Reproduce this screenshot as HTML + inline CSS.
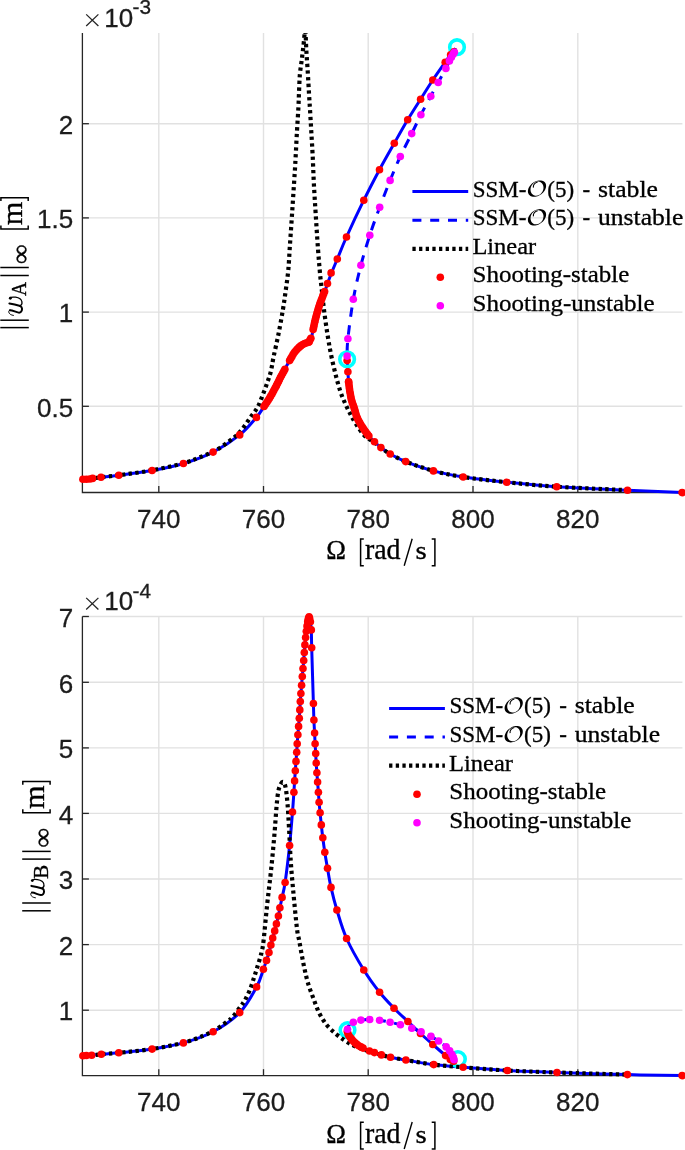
<!DOCTYPE html>
<html><head><meta charset="utf-8"><title>chart</title>
<style>
html,body{margin:0;padding:0;background:#fff;}
svg{display:block;}
.tk{font-family:"Liberation Sans",sans-serif;font-size:26px;fill:#1c1c1c;stroke:#1c1c1c;stroke-width:0.3px;}
.lg{font-family:"Liberation Serif",serif;font-size:23px;fill:#000;stroke:#000;stroke-width:0.3px;}
.lb{font-family:"Liberation Serif",serif;font-size:28.7px;fill:#000;}
.lbs{font-family:"Liberation Serif",serif;font-size:20.5px;fill:#000;}
</style></head><body>
<svg width="685" height="1150" viewBox="0 0 685 1150" style="will-change:transform">
<rect width="685" height="1150" fill="#fff"/>
<line x1="158.8" y1="32.9" x2="158.8" y2="492.5" stroke="#e1e1e1" stroke-width="1.4"/><line x1="263.5" y1="32.9" x2="263.5" y2="492.5" stroke="#e1e1e1" stroke-width="1.4"/><line x1="368.2" y1="32.9" x2="368.2" y2="492.5" stroke="#e1e1e1" stroke-width="1.4"/><line x1="473" y1="32.9" x2="473" y2="492.5" stroke="#e1e1e1" stroke-width="1.4"/><line x1="577.8" y1="32.9" x2="577.8" y2="492.5" stroke="#e1e1e1" stroke-width="1.4"/><line x1="82.4" y1="123.7" x2="682.4" y2="123.7" stroke="#e1e1e1" stroke-width="1.4"/><line x1="82.4" y1="217.9" x2="682.4" y2="217.9" stroke="#e1e1e1" stroke-width="1.4"/><line x1="82.4" y1="312.1" x2="682.4" y2="312.1" stroke="#e1e1e1" stroke-width="1.4"/><line x1="82.4" y1="406.3" x2="682.4" y2="406.3" stroke="#e1e1e1" stroke-width="1.4"/>
<path d="M82.4,32.9V492.5H682.4" fill="none" stroke="#262626" stroke-width="1.3"/><line x1="158.8" y1="492.5" x2="158.8" y2="486.0" stroke="#262626" stroke-width="1.3"/><line x1="263.5" y1="492.5" x2="263.5" y2="486.0" stroke="#262626" stroke-width="1.3"/><line x1="368.2" y1="492.5" x2="368.2" y2="486.0" stroke="#262626" stroke-width="1.3"/><line x1="473" y1="492.5" x2="473" y2="486.0" stroke="#262626" stroke-width="1.3"/><line x1="577.8" y1="492.5" x2="577.8" y2="486.0" stroke="#262626" stroke-width="1.3"/><line x1="82.4" y1="123.7" x2="88.9" y2="123.7" stroke="#262626" stroke-width="1.3"/><line x1="82.4" y1="217.9" x2="88.9" y2="217.9" stroke="#262626" stroke-width="1.3"/><line x1="82.4" y1="312.1" x2="88.9" y2="312.1" stroke="#262626" stroke-width="1.3"/><line x1="82.4" y1="406.3" x2="88.9" y2="406.3" stroke="#262626" stroke-width="1.3"/>
<clipPath id="c1"><rect x="81" y="32.9" width="605" height="462"/></clipPath>
<g clip-path="url(#c1)" fill="none" stroke-linejoin="round">
<path d="M82.50,479.40C84.18,479.23 89.52,478.77 92.60,478.40C95.68,478.03 96.63,477.73 101.00,477.20C105.37,476.67 110.28,476.32 118.80,475.20C127.32,474.08 141.33,472.45 152.10,470.50C162.87,468.55 173.23,466.57 183.40,463.50C193.57,460.43 203.72,456.87 213.10,452.10C222.48,447.33 232.48,440.68 239.70,434.90C246.92,429.12 252.35,422.13 256.40,417.40C260.45,412.67 261.78,409.77 264.00,406.50C266.22,403.23 267.72,401.12 269.70,397.80C271.68,394.48 274.03,390.12 275.90,386.60C277.77,383.08 279.37,379.67 280.90,376.70C282.43,373.73 283.65,371.48 285.10,368.80C286.55,366.12 288.12,363.22 289.60,360.60C291.08,357.98 292.35,355.38 294.00,353.10C295.65,350.82 297.77,348.47 299.50,346.90C301.23,345.33 302.83,344.52 304.40,343.70C305.97,342.88 307.73,343.03 308.90,342.00C310.07,340.97 310.70,339.57 311.40,337.50C312.10,335.43 312.40,332.78 313.10,329.60C313.80,326.42 314.65,322.13 315.60,318.40C316.55,314.67 317.68,310.72 318.80,307.20C319.92,303.68 321.27,300.07 322.30,297.30C323.33,294.53 324.13,292.88 325.00,290.60C325.87,288.32 326.47,286.42 327.50,283.60C328.53,280.78 329.57,277.80 331.20,273.70C332.83,269.60 334.75,265.12 337.30,259.00C339.85,252.88 342.08,246.80 346.50,237.00C350.92,227.20 358.30,211.42 363.80,200.20C369.30,188.98 374.42,179.20 379.50,169.70C384.58,160.20 389.60,151.52 394.30,143.20C399.00,134.88 403.32,127.13 407.70,119.80C412.08,112.47 416.42,105.83 420.60,99.20C424.78,92.57 428.70,86.17 432.80,80.00C436.90,73.83 442.23,66.42 445.20,62.20C448.17,57.98 449.15,56.65 450.60,54.70C452.05,52.75 453.07,51.57 453.90,50.50C454.73,49.43 455.32,48.67 455.60,48.30" stroke="#0000ff" stroke-width="3.0"/>
<path d="M347.10,358.60C347.23,360.78 347.65,367.85 347.90,371.70C348.15,375.55 348.27,378.38 348.60,381.70C348.93,385.02 349.40,388.50 349.90,391.60C350.40,394.70 350.90,397.62 351.60,400.30C352.30,402.98 353.12,404.68 354.10,407.70C355.08,410.72 355.95,414.92 357.50,418.40C359.05,421.88 361.45,425.58 363.40,428.60C365.35,431.62 367.35,434.32 369.20,436.50C371.05,438.68 372.55,439.85 374.50,441.70C376.45,443.55 378.28,445.55 380.90,447.60C383.52,449.65 386.07,451.67 390.20,454.00C394.33,456.33 398.50,458.78 405.70,461.60C412.90,464.42 423.82,468.33 433.40,470.90C442.98,473.47 450.98,475.12 463.20,477.00C475.42,478.88 491.12,480.58 506.70,482.20C522.28,483.82 536.57,485.37 556.70,486.70C576.83,488.03 606.60,489.22 627.50,490.20C648.40,491.18 673.00,492.20 682.10,492.60" stroke="#0000ff" stroke-width="3.0"/>
<path d="M347.10,358.60C347.10,358.18 346.97,359.42 347.10,356.10C347.23,352.78 346.87,348.17 347.90,338.70C348.93,329.23 351.13,311.55 353.30,299.30C355.47,287.05 358.15,275.88 360.90,265.20C363.65,254.52 366.67,244.87 369.80,235.20C372.93,225.53 376.32,216.33 379.70,207.20C383.08,198.07 386.67,188.85 390.10,180.40C393.53,171.95 396.70,164.30 400.30,156.50C403.90,148.70 408.27,140.55 411.70,133.60C415.13,126.65 417.72,121.03 420.90,114.80C424.08,108.57 427.92,101.58 430.80,96.20C433.68,90.82 435.68,87.13 438.20,82.50C440.72,77.87 444.03,72.00 445.90,68.40C447.77,64.80 448.48,62.77 449.40,60.90C450.32,59.03 450.78,58.32 451.40,57.20C452.02,56.08 452.60,55.02 453.10,54.20C453.60,53.38 453.98,53.28 454.40,52.30C454.82,51.32 455.40,48.97 455.60,48.30" stroke="#0000ff" stroke-width="3.0" stroke-dasharray="9.3 8.5" stroke-dashoffset="11.3"/>
<circle cx="457.0" cy="47.2" r="7.3" fill="none" stroke="#00ffff" stroke-width="3.6"/>
<circle cx="347.1" cy="359.3" r="7.3" fill="none" stroke="#00ffff" stroke-width="3.6"/>
<path d="M82.50,479.40C84.18,479.23 89.52,478.77 92.60,478.40C95.68,478.03 96.63,477.73 101.00,477.20C105.37,476.67 110.28,476.35 118.80,475.20C127.32,474.05 141.33,472.28 152.10,470.30C162.87,468.32 175.67,465.38 183.40,463.30C191.13,461.22 193.07,459.98 198.50,457.80C203.93,455.62 210.17,453.52 216.00,450.20C221.83,446.88 229.22,441.30 233.50,437.90C237.78,434.50 238.97,433.10 241.70,429.80C244.43,426.50 247.27,421.83 249.90,418.10C252.53,414.37 255.37,411.23 257.50,407.40C259.63,403.57 261.05,399.28 262.70,395.10C264.35,390.92 266.03,386.28 267.40,382.30C268.77,378.32 269.87,375.45 270.90,371.20C271.93,366.95 272.35,362.92 273.60,356.80C274.85,350.68 276.85,342.35 278.40,334.50C279.95,326.65 281.67,317.13 282.90,309.70C284.13,302.27 284.90,296.52 285.80,289.90C286.70,283.28 287.62,277.38 288.30,270.00C288.98,262.62 289.33,254.05 289.90,245.60C290.47,237.15 291.12,228.05 291.70,219.30C292.28,210.55 292.82,202.15 293.40,193.10C293.98,184.05 294.62,175.08 295.20,165.00C295.78,154.92 296.37,142.17 296.90,132.60C297.43,123.03 298.03,114.68 298.40,107.60C298.77,100.52 298.85,95.65 299.10,90.10C299.35,84.55 299.47,79.27 299.90,74.30C300.33,69.33 301.12,64.97 301.70,60.30C302.28,55.63 302.82,51.18 303.40,46.30C303.98,41.42 304.70,30.13 305.20,31.00C305.70,31.87 305.97,44.57 306.40,51.50C306.83,58.43 307.37,65.58 307.80,72.60C308.23,79.62 308.62,87.18 309.00,93.60C309.38,100.02 309.72,104.73 310.10,111.10C310.48,117.47 310.87,124.27 311.30,131.80C311.73,139.33 312.27,147.55 312.70,156.30C313.13,165.05 313.40,174.67 313.90,184.30C314.40,193.93 315.02,203.30 315.70,214.10C316.38,224.90 317.25,238.88 318.00,249.10C318.75,259.32 319.57,268.60 320.20,275.40C320.83,282.20 321.12,283.77 321.80,289.90C322.48,296.03 323.35,304.77 324.30,312.20C325.25,319.63 326.38,327.47 327.50,334.50C328.62,341.53 329.67,347.78 331.00,354.40C332.33,361.02 333.93,368.00 335.50,374.20C337.07,380.40 338.75,386.63 340.40,391.60C342.05,396.57 343.75,400.28 345.40,404.00C347.05,407.72 348.52,410.53 350.30,413.90C352.08,417.27 353.68,420.53 356.10,424.20C358.52,427.87 361.73,432.85 364.80,435.90C367.87,438.95 371.82,440.55 374.50,442.50C377.18,444.45 378.28,445.68 380.90,447.60C383.52,449.52 386.07,451.67 390.20,454.00C394.33,456.33 398.50,458.78 405.70,461.60C412.90,464.42 423.82,468.33 433.40,470.90C442.98,473.47 450.98,475.12 463.20,477.00C475.42,478.88 491.12,480.58 506.70,482.20C522.28,483.82 536.57,485.37 556.70,486.70C576.83,488.03 615.70,489.62 627.50,490.20" stroke="#000" stroke-width="4.2" stroke-dasharray="3.3 3.35"/>
</g>
<circle cx="82.9" cy="479.3" r="3.8" fill="#ff0000"/><circle cx="86.4" cy="479.3" r="3.8" fill="#ff0000"/><circle cx="89.9" cy="479.0" r="3.8" fill="#ff0000"/><circle cx="92.6" cy="478.4" r="3.8" fill="#ff0000"/><circle cx="101.0" cy="477.2" r="3.8" fill="#ff0000"/><circle cx="118.8" cy="475.2" r="3.8" fill="#ff0000"/><circle cx="152.1" cy="470.5" r="3.8" fill="#ff0000"/><circle cx="183.4" cy="463.5" r="3.8" fill="#ff0000"/><circle cx="213.1" cy="452.1" r="3.8" fill="#ff0000"/><circle cx="239.7" cy="434.9" r="3.8" fill="#ff0000"/><circle cx="256.4" cy="417.4" r="3.8" fill="#ff0000"/><circle cx="264.0" cy="406.5" r="3.8" fill="#ff0000"/><circle cx="265.3" cy="404.6" r="3.8" fill="#ff0000"/><circle cx="266.7" cy="402.5" r="3.8" fill="#ff0000"/><circle cx="268.0" cy="400.5" r="3.8" fill="#ff0000"/><circle cx="269.3" cy="398.5" r="3.8" fill="#ff0000"/><circle cx="270.5" cy="396.4" r="3.8" fill="#ff0000"/><circle cx="271.8" cy="394.2" r="3.8" fill="#ff0000"/><circle cx="272.8" cy="392.3" r="3.8" fill="#ff0000"/><circle cx="273.9" cy="390.3" r="3.8" fill="#ff0000"/><circle cx="275.1" cy="388.0" r="3.8" fill="#ff0000"/><circle cx="276.3" cy="385.9" r="3.8" fill="#ff0000"/><circle cx="277.3" cy="383.8" r="3.8" fill="#ff0000"/><circle cx="278.4" cy="381.8" r="3.8" fill="#ff0000"/><circle cx="279.3" cy="379.8" r="3.8" fill="#ff0000"/><circle cx="280.4" cy="377.6" r="3.8" fill="#ff0000"/><circle cx="281.5" cy="375.5" r="3.8" fill="#ff0000"/><circle cx="282.7" cy="373.3" r="3.8" fill="#ff0000"/><circle cx="283.8" cy="371.3" r="3.8" fill="#ff0000"/><circle cx="284.9" cy="369.3" r="3.8" fill="#ff0000"/><circle cx="289.6" cy="360.6" r="3.8" fill="#ff0000"/><circle cx="290.7" cy="358.6" r="3.8" fill="#ff0000"/><circle cx="291.8" cy="356.7" r="3.8" fill="#ff0000"/><circle cx="293.0" cy="354.6" r="3.8" fill="#ff0000"/><circle cx="294.3" cy="352.6" r="3.8" fill="#ff0000"/><circle cx="295.8" cy="350.8" r="3.8" fill="#ff0000"/><circle cx="297.3" cy="349.1" r="3.8" fill="#ff0000"/><circle cx="299.0" cy="347.4" r="3.8" fill="#ff0000"/><circle cx="300.7" cy="345.9" r="3.8" fill="#ff0000"/><circle cx="302.7" cy="344.6" r="3.8" fill="#ff0000"/><circle cx="304.7" cy="343.5" r="3.8" fill="#ff0000"/><circle cx="306.8" cy="342.7" r="3.8" fill="#ff0000"/><circle cx="308.9" cy="342.0" r="3.8" fill="#ff0000"/><circle cx="308.9" cy="342.0" r="3.8" fill="#ff0000"/><circle cx="309.9" cy="340.1" r="3.8" fill="#ff0000"/><circle cx="310.9" cy="338.3" r="3.8" fill="#ff0000"/><circle cx="313.1" cy="329.6" r="3.8" fill="#ff0000"/><circle cx="313.6" cy="327.4" r="3.8" fill="#ff0000"/><circle cx="314.1" cy="325.1" r="3.8" fill="#ff0000"/><circle cx="314.6" cy="322.5" r="3.8" fill="#ff0000"/><circle cx="315.1" cy="320.4" r="3.8" fill="#ff0000"/><circle cx="315.7" cy="318.0" r="3.8" fill="#ff0000"/><circle cx="316.3" cy="315.8" r="3.8" fill="#ff0000"/><circle cx="316.9" cy="313.5" r="3.8" fill="#ff0000"/><circle cx="317.6" cy="311.2" r="3.8" fill="#ff0000"/><circle cx="318.2" cy="309.0" r="3.8" fill="#ff0000"/><circle cx="318.9" cy="306.8" r="3.8" fill="#ff0000"/><circle cx="319.6" cy="304.7" r="3.8" fill="#ff0000"/><circle cx="320.3" cy="302.6" r="3.8" fill="#ff0000"/><circle cx="321.2" cy="300.3" r="3.8" fill="#ff0000"/><circle cx="322.0" cy="298.2" r="3.8" fill="#ff0000"/><circle cx="322.8" cy="295.9" r="3.8" fill="#ff0000"/><circle cx="323.7" cy="293.8" r="3.8" fill="#ff0000"/><circle cx="324.6" cy="291.6" r="3.8" fill="#ff0000"/><circle cx="327.5" cy="283.6" r="3.8" fill="#ff0000"/><circle cx="331.1" cy="272.9" r="3.8" fill="#ff0000"/><circle cx="337.3" cy="259.0" r="3.8" fill="#ff0000"/><circle cx="346.5" cy="237.0" r="3.8" fill="#ff0000"/><circle cx="363.8" cy="200.2" r="3.8" fill="#ff0000"/><circle cx="379.5" cy="169.7" r="3.8" fill="#ff0000"/><circle cx="394.3" cy="143.2" r="3.8" fill="#ff0000"/><circle cx="407.7" cy="119.8" r="3.8" fill="#ff0000"/><circle cx="420.6" cy="99.2" r="3.8" fill="#ff0000"/><circle cx="432.8" cy="80.0" r="3.8" fill="#ff0000"/><circle cx="445.2" cy="62.2" r="3.8" fill="#ff0000"/><circle cx="450.6" cy="54.7" r="3.8" fill="#ff0000"/><circle cx="453.9" cy="51.8" r="3.8" fill="#ff0000"/>
<circle cx="347.1" cy="360.5" r="3.8" fill="#ff0000"/><circle cx="347.9" cy="371.7" r="3.8" fill="#ff0000"/><circle cx="348.6" cy="381.7" r="3.8" fill="#ff0000"/><circle cx="348.6" cy="381.7" r="3.8" fill="#ff0000"/><circle cx="348.9" cy="384.0" r="3.8" fill="#ff0000"/><circle cx="349.2" cy="386.5" r="3.8" fill="#ff0000"/><circle cx="349.5" cy="388.8" r="3.8" fill="#ff0000"/><circle cx="349.8" cy="391.3" r="3.8" fill="#ff0000"/><circle cx="350.3" cy="393.7" r="3.8" fill="#ff0000"/><circle cx="350.7" cy="396.1" r="3.8" fill="#ff0000"/><circle cx="351.1" cy="398.4" r="3.8" fill="#ff0000"/><circle cx="351.7" cy="400.6" r="3.8" fill="#ff0000"/><circle cx="352.3" cy="402.7" r="3.8" fill="#ff0000"/><circle cx="353.2" cy="405.0" r="3.8" fill="#ff0000"/><circle cx="353.9" cy="407.1" r="3.8" fill="#ff0000"/><circle cx="354.6" cy="409.3" r="3.8" fill="#ff0000"/><circle cx="355.3" cy="411.8" r="3.8" fill="#ff0000"/><circle cx="355.9" cy="414.0" r="3.8" fill="#ff0000"/><circle cx="356.6" cy="416.2" r="3.8" fill="#ff0000"/><circle cx="357.5" cy="418.4" r="3.8" fill="#ff0000"/><circle cx="358.5" cy="420.5" r="3.8" fill="#ff0000"/><circle cx="359.7" cy="422.6" r="3.8" fill="#ff0000"/><circle cx="360.9" cy="424.7" r="3.8" fill="#ff0000"/><circle cx="362.2" cy="426.7" r="3.8" fill="#ff0000"/><circle cx="363.4" cy="428.6" r="3.8" fill="#ff0000"/><circle cx="364.7" cy="430.5" r="3.8" fill="#ff0000"/><circle cx="366.0" cy="432.3" r="3.8" fill="#ff0000"/><circle cx="367.5" cy="434.3" r="3.8" fill="#ff0000"/><circle cx="368.9" cy="436.0" r="3.8" fill="#ff0000"/><circle cx="374.5" cy="441.7" r="3.8" fill="#ff0000"/><circle cx="380.9" cy="447.6" r="3.8" fill="#ff0000"/><circle cx="390.2" cy="454.0" r="3.8" fill="#ff0000"/><circle cx="405.7" cy="461.6" r="3.8" fill="#ff0000"/><circle cx="433.4" cy="470.9" r="3.8" fill="#ff0000"/><circle cx="463.2" cy="477.0" r="3.8" fill="#ff0000"/><circle cx="506.7" cy="482.2" r="3.8" fill="#ff0000"/><circle cx="556.7" cy="486.7" r="3.8" fill="#ff0000"/><circle cx="627.5" cy="490.2" r="3.8" fill="#ff0000"/><circle cx="682.1" cy="492.6" r="3.8" fill="#ff0000"/>
<circle cx="454.4" cy="52.3" r="3.8" fill="#ff00ff"/><circle cx="453.1" cy="54.2" r="3.8" fill="#ff00ff"/><circle cx="451.4" cy="57.2" r="3.8" fill="#ff00ff"/><circle cx="449.4" cy="60.9" r="3.8" fill="#ff00ff"/><circle cx="445.9" cy="68.4" r="3.8" fill="#ff00ff"/><circle cx="438.2" cy="82.5" r="3.8" fill="#ff00ff"/><circle cx="430.8" cy="96.2" r="3.8" fill="#ff00ff"/><circle cx="420.9" cy="114.8" r="3.8" fill="#ff00ff"/><circle cx="411.7" cy="133.6" r="3.8" fill="#ff00ff"/><circle cx="400.3" cy="156.5" r="3.8" fill="#ff00ff"/><circle cx="390.1" cy="180.4" r="3.8" fill="#ff00ff"/><circle cx="379.7" cy="207.2" r="3.8" fill="#ff00ff"/><circle cx="369.8" cy="235.2" r="3.8" fill="#ff00ff"/><circle cx="360.9" cy="265.2" r="3.8" fill="#ff00ff"/><circle cx="353.3" cy="299.3" r="3.8" fill="#ff00ff"/><circle cx="347.9" cy="338.7" r="3.8" fill="#ff00ff"/><circle cx="347.1" cy="356.1" r="3.8" fill="#ff00ff"/>
<text x="73.2" y="133.9" text-anchor="end" class="tk">2</text><text x="73.2" y="228.1" text-anchor="end" class="tk">1.5</text><text x="73.2" y="322.3" text-anchor="end" class="tk">1</text><text x="73.2" y="416.5" text-anchor="end" class="tk">0.5</text><text x="158.8" y="527.8" text-anchor="middle" class="tk">740</text><text x="263.5" y="527.8" text-anchor="middle" class="tk">760</text><text x="368.2" y="527.8" text-anchor="middle" class="tk">780</text><text x="473" y="527.8" text-anchor="middle" class="tk">800</text><text x="577.8" y="527.8" text-anchor="middle" class="tk">820</text>
<path d="M86.2,14.4L98.4,26M98.4,14.4L86.2,26" stroke="#262626" stroke-width="1.3" fill="none"/><text x="104.3" y="26.7" class="tk">10</text><text x="132.6" y="14.4" class="tk" style="font-size:20.8px">-3</text>
<g transform="translate(0,0)"><line x1="412.4" y1="191.5" x2="468.2" y2="191.5" stroke="#0000ff" stroke-width="3"/><line x1="412.4" y1="220.2" x2="468.2" y2="220.2" stroke="#0000ff" stroke-width="3" stroke-dasharray="9 8.8"/><line x1="412.4" y1="248.8" x2="468.2" y2="248.8" stroke="#000" stroke-width="4.2" stroke-dasharray="3.3 3.35"/><circle cx="440.3" cy="277.3" r="3.8" fill="#ff0000"/><circle cx="440.3" cy="305.8" r="3.8" fill="#ff00ff"/><text x="472.7" y="196.5" class="lg">SSM-</text><path d="M545.60,188.60L545.14,189.67L544.53,190.72L543.80,191.74L542.96,192.70L542.01,193.59L540.97,194.40L539.87,195.11L538.72,195.70L537.53,196.18L536.34,196.52L535.16,196.73L534.02,196.80L532.92,196.73L531.89,196.52L530.95,196.18L530.12,195.70L529.40,195.11L528.81,194.40L528.36,193.59L528.06,192.70L527.91,191.74L527.92,190.72L528.08,189.67L528.40,188.60L528.86,187.53L529.47,186.48L530.20,185.46L531.04,184.50L531.99,183.61L533.03,182.80L534.13,182.09L535.28,181.50L536.47,181.02L537.66,180.68L538.84,180.47L539.98,180.40L541.08,180.47L542.11,180.68L543.05,181.02L543.88,181.50L544.60,182.09L545.19,182.80L545.64,183.61L545.94,184.50L546.09,185.46L546.08,186.48L545.92,187.53ZM542.97,184.97L542.59,184.21L542.11,183.52L541.55,182.92L540.91,182.42L540.20,182.02L539.43,181.74L538.63,181.57L537.79,181.53L536.95,181.60L536.10,181.80L535.27,182.11L534.47,182.53L533.71,183.06L533.01,183.68L532.38,184.38L531.82,185.16L531.36,186.00L530.99,186.88L530.72,187.79L530.56,188.71L530.51,189.63L530.58,190.54L530.75,191.41L531.03,192.23L531.41,192.99L531.89,193.68L532.45,194.28L533.09,194.78L533.80,195.18L534.57,195.46L535.37,195.63L536.21,195.67L537.05,195.60L537.90,195.40L538.73,195.09L539.53,194.67L540.29,194.14L540.99,193.52L541.62,192.82L542.18,192.04L542.64,191.20L543.01,190.32L543.28,189.41L543.44,188.49L543.49,187.57L543.42,186.66L543.25,185.79Z" fill="#000" fill-rule="evenodd"/><path d="M533.4,187.6C533.0,185.0 534.6,183.0 537.6,182.0" fill="none" stroke="#000" stroke-width="1.1"/><text x="547.3" y="196.5" class="lg">(5)</text><text x="582.6" y="196.5" class="lg">-</text><text x="598.0" y="196.5" class="lg" textLength="60" lengthAdjust="spacingAndGlyphs">stable</text><text x="472.7" y="225.2" class="lg">SSM-</text><path d="M545.60,217.30L545.14,218.37L544.53,219.42L543.80,220.44L542.96,221.40L542.01,222.29L540.97,223.10L539.87,223.81L538.72,224.40L537.53,224.88L536.34,225.22L535.16,225.43L534.02,225.50L532.92,225.43L531.89,225.22L530.95,224.88L530.12,224.40L529.40,223.81L528.81,223.10L528.36,222.29L528.06,221.40L527.91,220.44L527.92,219.42L528.08,218.37L528.40,217.30L528.86,216.23L529.47,215.18L530.20,214.16L531.04,213.20L531.99,212.31L533.03,211.50L534.13,210.79L535.28,210.20L536.47,209.72L537.66,209.38L538.84,209.17L539.98,209.10L541.08,209.17L542.11,209.38L543.05,209.72L543.88,210.20L544.60,210.79L545.19,211.50L545.64,212.31L545.94,213.20L546.09,214.16L546.08,215.18L545.92,216.23ZM542.97,213.67L542.59,212.91L542.11,212.22L541.55,211.62L540.91,211.12L540.20,210.72L539.43,210.44L538.63,210.27L537.79,210.23L536.95,210.30L536.10,210.50L535.27,210.81L534.47,211.23L533.71,211.76L533.01,212.38L532.38,213.08L531.82,213.86L531.36,214.70L530.99,215.58L530.72,216.49L530.56,217.41L530.51,218.33L530.58,219.24L530.75,220.11L531.03,220.93L531.41,221.69L531.89,222.38L532.45,222.98L533.09,223.48L533.80,223.88L534.57,224.16L535.37,224.33L536.21,224.37L537.05,224.30L537.90,224.10L538.73,223.79L539.53,223.37L540.29,222.84L540.99,222.22L541.62,221.52L542.18,220.74L542.64,219.90L543.01,219.02L543.28,218.11L543.44,217.19L543.49,216.27L543.42,215.36L543.25,214.49Z" fill="#000" fill-rule="evenodd"/><path d="M533.4,216.29999999999998C533.0,213.7 534.6,211.7 537.6,210.7" fill="none" stroke="#000" stroke-width="1.1"/><text x="547.3" y="225.2" class="lg">(5)</text><text x="582.6" y="225.2" class="lg">-</text><text x="598.0" y="225.2" class="lg" textLength="85.3" lengthAdjust="spacingAndGlyphs">unstable</text><text x="472.4" y="253.8" class="lg" textLength="63.8" lengthAdjust="spacingAndGlyphs">Linear</text><text x="472.6" y="282.3" class="lg" textLength="156.8" lengthAdjust="spacingAndGlyphs">Shooting-stable</text><text x="472.6" y="310.8" class="lg" textLength="182" lengthAdjust="spacingAndGlyphs">Shooting-unstable</text></g>
<g transform="translate(0,0)"><text transform="translate(326.17,559.40) scale(1.3281,1.3939)" font-family="Liberation Serif" font-style="normal" font-size="20" fill="#000" stroke="#000" stroke-width="0.257">Ω</text><text transform="translate(364.94,559.31) scale(1.3936,1.4357)" font-family="Liberation Serif" font-style="normal" font-size="20" fill="#000" stroke="#000" stroke-width="0.247">rad</text><text transform="translate(415.44,559.44) scale(1.4444,1.2813)" font-family="Liberation Serif" font-style="normal" font-size="20" fill="#000" stroke="#000" stroke-width="0.257">s</text><path d="M404.2,565.8L412.2,538.8" stroke="#000" stroke-width="1.4" fill="none"/><path d="M363.8,539.1H360.6V565.7H363.8M431.7,539.1H434.9V565.7H431.7" fill="none" stroke="#000" stroke-width="1.5"/></g>
<g transform="translate(0,0)"><line x1="0.3" y1="267.5" x2="28.8" y2="267.5" stroke="#000" stroke-width="1.5"/><line x1="0.3" y1="275.5" x2="28.8" y2="275.5" stroke="#000" stroke-width="1.5"/><line x1="0.3" y1="320.2" x2="28.8" y2="320.2" stroke="#000" stroke-width="1.5"/><line x1="0.3" y1="327.6" x2="28.8" y2="327.6" stroke="#000" stroke-width="1.5"/><path d="M0.9,201.1V197.8H28.2V201.1M0.9,225.6V229.1H28.2V225.6" fill="none" stroke="#000" stroke-width="1.5"/><text transform="translate(21.90,225.31) rotate(-90) scale(1.5135,1.4362)" font-family="Liberation Serif" font-style="normal" font-size="20" fill="#000" stroke="#000" stroke-width="0.237">m</text><text transform="translate(28.88,263.91) rotate(-90) scale(1.3858,1.2895)" font-family="Liberation Serif" font-style="normal" font-size="20" fill="#000" stroke="#000" stroke-width="0.262">∞</text><text transform="translate(26.00,295.89) rotate(-90) scale(0.9716,1.0992)" font-family="Liberation Serif" font-style="normal" font-size="20" fill="#000" stroke="#000" stroke-width="0.339">A</text><g transform="translate(-22.0,-582.4)" fill="none" stroke="#000" stroke-linecap="round" stroke-linejoin="round"><path d="M35.46,897.83C33.01,897.55 30.91,896.25 30.73,894.32C30.63,893.27 31.26,892.50 32.31,892.47" stroke-width="0.95"/><path d="M31.89,892.57C35.11,892.57 37.56,894.67 40.72,895.02C42.82,895.13 44.04,893.62 44.04,891.52C44.04,890.12 43.52,889.07 42.29,888.44" stroke-width="2.0"/><path d="M31.43,885.91Q36.51,886.79 42.29,888.44" stroke-width="2.1"/><path d="M41.94,888.30C43.69,887.59 44.29,885.91 43.87,884.16C43.45,881.71 40.72,880.13 37.56,879.61C35.81,879.33 34.23,879.26 32.83,879.78" stroke-width="1.25"/><circle cx="32.31" cy="880.59" r="1.45" fill="#000" stroke="none"/></g></g>
<line x1="158.8" y1="616.5" x2="158.8" y2="1075.7" stroke="#e1e1e1" stroke-width="1.4"/><line x1="263.5" y1="616.5" x2="263.5" y2="1075.7" stroke="#e1e1e1" stroke-width="1.4"/><line x1="368.2" y1="616.5" x2="368.2" y2="1075.7" stroke="#e1e1e1" stroke-width="1.4"/><line x1="473" y1="616.5" x2="473" y2="1075.7" stroke="#e1e1e1" stroke-width="1.4"/><line x1="577.8" y1="616.5" x2="577.8" y2="1075.7" stroke="#e1e1e1" stroke-width="1.4"/><line x1="82.4" y1="616.5" x2="682.4" y2="616.5" stroke="#e1e1e1" stroke-width="1.4"/><line x1="82.4" y1="682.3" x2="682.4" y2="682.3" stroke="#e1e1e1" stroke-width="1.4"/><line x1="82.4" y1="747.9" x2="682.4" y2="747.9" stroke="#e1e1e1" stroke-width="1.4"/><line x1="82.4" y1="813.4" x2="682.4" y2="813.4" stroke="#e1e1e1" stroke-width="1.4"/><line x1="82.4" y1="879" x2="682.4" y2="879" stroke="#e1e1e1" stroke-width="1.4"/><line x1="82.4" y1="944.6" x2="682.4" y2="944.6" stroke="#e1e1e1" stroke-width="1.4"/><line x1="82.4" y1="1010.2" x2="682.4" y2="1010.2" stroke="#e1e1e1" stroke-width="1.4"/>
<path d="M82.4,616.5V1075.7H682.4" fill="none" stroke="#262626" stroke-width="1.3"/><line x1="158.8" y1="1075.7" x2="158.8" y2="1069.2" stroke="#262626" stroke-width="1.3"/><line x1="263.5" y1="1075.7" x2="263.5" y2="1069.2" stroke="#262626" stroke-width="1.3"/><line x1="368.2" y1="1075.7" x2="368.2" y2="1069.2" stroke="#262626" stroke-width="1.3"/><line x1="473" y1="1075.7" x2="473" y2="1069.2" stroke="#262626" stroke-width="1.3"/><line x1="577.8" y1="1075.7" x2="577.8" y2="1069.2" stroke="#262626" stroke-width="1.3"/><line x1="82.4" y1="616.5" x2="88.9" y2="616.5" stroke="#262626" stroke-width="1.3"/><line x1="82.4" y1="682.3" x2="88.9" y2="682.3" stroke="#262626" stroke-width="1.3"/><line x1="82.4" y1="747.9" x2="88.9" y2="747.9" stroke="#262626" stroke-width="1.3"/><line x1="82.4" y1="813.4" x2="88.9" y2="813.4" stroke="#262626" stroke-width="1.3"/><line x1="82.4" y1="879" x2="88.9" y2="879" stroke="#262626" stroke-width="1.3"/><line x1="82.4" y1="944.6" x2="88.9" y2="944.6" stroke="#262626" stroke-width="1.3"/><line x1="82.4" y1="1010.2" x2="88.9" y2="1010.2" stroke="#262626" stroke-width="1.3"/>
<clipPath id="c2"><rect x="81" y="614" width="605" height="464"/></clipPath>
<g clip-path="url(#c2)" fill="none" stroke-linejoin="round">
<path d="M82.50,1055.80C83.15,1055.75 84.87,1055.60 86.40,1055.50C87.93,1055.40 89.22,1055.40 91.70,1055.20C94.18,1055.00 96.78,1054.70 101.30,1054.30C105.82,1053.90 110.33,1053.67 118.80,1052.80C127.27,1051.93 141.33,1050.75 152.10,1049.10C162.87,1047.45 173.23,1045.78 183.40,1042.90C193.57,1040.02 203.72,1036.85 213.10,1031.80C222.48,1026.75 232.45,1020.08 239.70,1012.60C246.95,1005.12 252.65,994.12 256.60,986.90C260.55,979.68 261.75,973.72 263.40,969.30C265.05,964.88 265.57,963.20 266.50,960.40C267.43,957.60 268.27,955.07 269.00,952.50C269.73,949.93 270.28,947.40 270.90,945.00C271.52,942.60 272.07,940.45 272.70,938.10C273.33,935.75 274.08,933.27 274.70,930.90C275.32,928.53 275.78,926.38 276.40,923.90C277.02,921.42 277.82,918.68 278.40,916.00C278.98,913.32 279.28,910.90 279.90,907.80C280.52,904.70 281.23,901.62 282.10,897.40C282.97,893.18 283.85,891.15 285.10,882.50C286.35,873.85 288.37,857.25 289.60,845.50C290.83,833.75 291.78,820.88 292.50,812.00C293.22,803.12 293.55,797.38 293.90,792.20C294.25,787.02 294.37,784.47 294.60,780.90C294.83,777.33 295.07,774.05 295.30,770.80C295.53,767.55 295.77,764.48 296.00,761.40C296.23,758.32 296.50,755.25 296.70,752.30C296.90,749.35 297.00,746.62 297.20,743.70C297.40,740.78 297.67,737.68 297.90,734.80C298.13,731.92 298.37,729.15 298.60,726.40C298.83,723.65 299.10,721.05 299.30,718.30C299.50,715.55 299.63,712.68 299.80,709.90C299.97,707.12 300.12,704.32 300.30,701.60C300.48,698.88 300.68,696.33 300.90,693.60C301.12,690.87 301.37,688.05 301.60,685.20C301.83,682.35 302.07,679.28 302.30,676.50C302.53,673.72 302.77,671.17 303.00,668.50C303.23,665.83 303.48,663.17 303.70,660.50C303.92,657.83 304.10,655.10 304.30,652.50C304.50,649.90 304.68,647.38 304.90,644.90C305.12,642.42 305.37,639.87 305.60,637.60C305.83,635.33 306.07,633.22 306.30,631.30C306.53,629.38 306.77,627.70 307.00,626.10C307.23,624.50 307.45,623.00 307.70,621.70C307.95,620.40 308.27,619.13 308.50,618.30C308.73,617.47 308.88,616.70 309.10,616.70C309.32,616.70 309.58,617.47 309.80,618.30C310.02,619.13 310.15,619.77 310.40,621.70C310.65,623.63 311.08,625.55 311.30,629.90C311.52,634.25 311.35,635.53 311.70,647.80C312.05,660.07 313.03,691.47 313.40,703.50C313.77,715.53 313.70,715.08 313.90,720.00C314.10,724.92 314.40,729.03 314.60,733.00C314.80,736.97 314.92,740.37 315.10,743.80C315.28,747.23 315.52,750.38 315.70,753.60C315.88,756.82 316.00,759.92 316.20,763.10C316.40,766.28 316.67,769.53 316.90,772.70C317.13,775.87 317.35,778.85 317.60,782.10C317.85,785.35 318.15,788.83 318.40,792.20C318.65,795.57 318.82,798.87 319.10,802.30C319.38,805.73 319.73,809.03 320.10,812.80C320.47,816.57 320.85,820.73 321.30,824.90C321.75,829.07 322.22,833.25 322.80,837.80C323.38,842.35 324.02,847.12 324.80,852.20C325.58,857.28 326.47,862.43 327.50,868.30C328.53,874.17 329.43,880.45 331.00,887.40C332.57,894.35 334.30,901.48 336.90,910.00C339.50,918.52 342.12,928.50 346.60,938.50C351.08,948.50 358.30,961.03 363.80,970.00C369.30,978.97 374.57,985.93 379.60,992.30C384.63,998.67 389.28,1003.33 394.00,1008.20C398.72,1013.07 403.48,1017.28 407.90,1021.50C412.32,1025.72 416.35,1029.67 420.50,1033.50C424.65,1037.33 428.62,1040.82 432.80,1044.50C436.98,1048.18 442.68,1053.08 445.60,1055.60C448.52,1058.12 448.97,1058.67 450.30,1059.60C451.63,1060.53 452.72,1060.97 453.60,1061.20C454.48,1061.43 455.27,1061.03 455.60,1061.00" stroke="#0000ff" stroke-width="3.0"/>
<path d="M347.30,1031.50C347.50,1032.08 347.88,1033.83 348.50,1035.00C349.12,1036.17 349.60,1036.93 351.00,1038.50C352.40,1040.07 354.57,1042.63 356.90,1044.40C359.23,1046.17 362.08,1047.73 365.00,1049.10C367.92,1050.47 371.67,1051.63 374.40,1052.60C377.13,1053.57 378.72,1054.13 381.40,1054.90C384.08,1055.67 386.42,1056.35 390.50,1057.20C394.58,1058.05 398.70,1058.77 405.90,1060.00C413.10,1061.23 424.17,1063.38 433.70,1064.60C443.23,1065.82 450.83,1066.32 463.10,1067.30C475.37,1068.28 491.65,1069.63 507.30,1070.50C522.95,1071.37 536.98,1071.82 557.00,1072.50C577.02,1073.18 606.55,1074.08 627.40,1074.60C648.25,1075.12 672.98,1075.43 682.10,1075.60" stroke="#0000ff" stroke-width="3.0"/>
<path d="M347.30,1031.50C347.28,1031.17 346.98,1030.45 347.20,1029.50C347.42,1028.55 347.58,1027.02 348.60,1025.80C349.62,1024.58 351.25,1023.15 353.30,1022.20C355.35,1021.25 358.17,1020.55 360.90,1020.10C363.63,1019.65 366.58,1019.48 369.70,1019.50C372.82,1019.52 376.20,1019.75 379.60,1020.20C383.00,1020.65 386.63,1021.43 390.10,1022.20C393.57,1022.97 396.78,1023.80 400.40,1024.80C404.02,1025.80 408.35,1027.05 411.80,1028.20C415.25,1029.35 417.90,1030.33 421.10,1031.70C424.30,1033.07 428.08,1034.85 431.00,1036.40C433.92,1037.95 436.07,1039.25 438.60,1041.00C441.13,1042.75 444.35,1045.25 446.20,1046.90C448.05,1048.55 448.73,1049.63 449.70,1050.90C450.67,1052.17 451.38,1053.42 452.00,1054.50C452.62,1055.58 452.97,1056.53 453.40,1057.40C453.83,1058.27 454.23,1059.10 454.60,1059.70C454.97,1060.30 455.43,1060.78 455.60,1061.00" stroke="#0000ff" stroke-width="3.0" stroke-dasharray="9.3 8.5"/>
<circle cx="457.9" cy="1059.1" r="7.3" fill="none" stroke="#00ffff" stroke-width="3.6"/>
<circle cx="347.5" cy="1030.1" r="7.3" fill="none" stroke="#00ffff" stroke-width="3.6"/>
<path d="M82.50,1055.80C84.03,1055.70 88.57,1055.45 91.70,1055.20C94.83,1054.95 96.78,1054.70 101.30,1054.30C105.82,1053.90 110.33,1053.68 118.80,1052.80C127.27,1051.92 141.33,1050.68 152.10,1049.00C162.87,1047.32 174.90,1044.90 183.40,1042.70C191.90,1040.50 197.52,1038.10 203.10,1035.80C208.68,1033.50 212.82,1031.33 216.90,1028.90C220.98,1026.47 224.97,1023.20 227.60,1021.20C230.23,1019.20 230.48,1019.43 232.70,1016.90C234.92,1014.37 238.85,1008.80 240.90,1006.00C242.95,1003.20 243.47,1002.88 245.00,1000.10C246.53,997.32 248.57,993.13 250.10,989.30C251.63,985.47 253.02,980.75 254.20,977.10C255.38,973.45 256.18,970.72 257.20,967.40C258.22,964.08 259.53,959.93 260.30,957.20C261.07,954.47 261.27,953.65 261.80,951.00C262.33,948.35 262.60,949.12 263.50,941.30C264.40,933.48 265.97,915.68 267.20,904.10C268.43,892.52 269.73,882.97 270.90,871.80C272.07,860.63 273.23,848.27 274.20,837.10C275.17,825.93 276.00,812.48 276.70,804.80C277.40,797.12 277.75,794.42 278.40,791.00C279.05,787.58 279.80,785.80 280.60,784.30C281.40,782.80 282.37,781.48 283.20,782.00C284.03,782.52 284.87,783.60 285.60,787.40C286.33,791.20 287.02,797.77 287.60,804.80C288.18,811.83 288.57,820.08 289.10,829.60C289.63,839.12 290.10,851.55 290.80,861.90C291.50,872.25 292.27,880.53 293.30,891.70C294.33,902.87 296.03,920.85 297.00,928.90C297.97,936.95 298.32,935.72 299.10,940.00C299.88,944.28 300.78,949.73 301.70,954.60C302.62,959.47 303.52,964.33 304.60,969.20C305.68,974.07 306.73,978.93 308.20,983.80C309.67,988.67 311.57,993.53 313.40,998.40C315.23,1003.27 317.02,1008.62 319.20,1013.00C321.38,1017.38 323.82,1021.30 326.50,1024.70C329.18,1028.10 332.38,1030.85 335.30,1033.40C338.22,1035.95 341.33,1038.17 344.00,1040.00C346.67,1041.83 348.97,1043.15 351.30,1044.40C353.63,1045.65 355.72,1046.57 358.00,1047.50C360.28,1048.43 362.27,1049.08 365.00,1050.00C367.73,1050.92 371.67,1052.18 374.40,1053.00C377.13,1053.82 378.72,1054.20 381.40,1054.90C384.08,1055.60 386.42,1056.35 390.50,1057.20C394.58,1058.05 398.70,1058.77 405.90,1060.00C413.10,1061.23 424.17,1063.38 433.70,1064.60C443.23,1065.82 450.83,1066.32 463.10,1067.30C475.37,1068.28 491.65,1069.63 507.30,1070.50C522.95,1071.37 536.98,1071.82 557.00,1072.50C577.02,1073.18 615.67,1074.25 627.40,1074.60" stroke="#000" stroke-width="4.2" stroke-dasharray="3.3 3.35"/>
</g>
<circle cx="82.9" cy="1055.8" r="3.8" fill="#ff0000"/><circle cx="86.4" cy="1055.5" r="3.8" fill="#ff0000"/><circle cx="91.7" cy="1055.2" r="3.8" fill="#ff0000"/><circle cx="101.3" cy="1054.3" r="3.8" fill="#ff0000"/><circle cx="118.8" cy="1052.8" r="3.8" fill="#ff0000"/><circle cx="152.1" cy="1049.1" r="3.8" fill="#ff0000"/><circle cx="183.4" cy="1042.9" r="3.8" fill="#ff0000"/><circle cx="213.1" cy="1031.8" r="3.8" fill="#ff0000"/><circle cx="239.7" cy="1012.6" r="3.8" fill="#ff0000"/><circle cx="256.6" cy="986.9" r="3.8" fill="#ff0000"/><circle cx="263.4" cy="969.3" r="3.8" fill="#ff0000"/><circle cx="266.5" cy="960.4" r="3.8" fill="#ff0000"/><circle cx="269.0" cy="952.5" r="3.8" fill="#ff0000"/><circle cx="270.9" cy="945.0" r="3.8" fill="#ff0000"/><circle cx="272.7" cy="938.1" r="3.8" fill="#ff0000"/><circle cx="274.7" cy="930.9" r="3.8" fill="#ff0000"/><circle cx="276.4" cy="923.9" r="3.8" fill="#ff0000"/><circle cx="278.4" cy="916.0" r="3.8" fill="#ff0000"/><circle cx="279.9" cy="907.8" r="3.8" fill="#ff0000"/><circle cx="282.1" cy="897.4" r="3.8" fill="#ff0000"/><circle cx="285.1" cy="882.5" r="3.8" fill="#ff0000"/><circle cx="289.6" cy="845.5" r="3.8" fill="#ff0000"/><circle cx="292.5" cy="812.0" r="3.8" fill="#ff0000"/><circle cx="293.9" cy="792.2" r="3.8" fill="#ff0000"/><circle cx="294.6" cy="780.9" r="3.8" fill="#ff0000"/><circle cx="295.3" cy="770.8" r="3.8" fill="#ff0000"/><circle cx="296.0" cy="761.4" r="3.8" fill="#ff0000"/><circle cx="296.7" cy="752.3" r="3.8" fill="#ff0000"/><circle cx="297.2" cy="743.7" r="3.8" fill="#ff0000"/><circle cx="297.9" cy="734.8" r="3.8" fill="#ff0000"/><circle cx="298.6" cy="726.4" r="3.8" fill="#ff0000"/><circle cx="299.3" cy="718.3" r="3.8" fill="#ff0000"/><circle cx="299.8" cy="709.9" r="3.8" fill="#ff0000"/><circle cx="300.3" cy="701.6" r="3.8" fill="#ff0000"/><circle cx="300.9" cy="693.6" r="3.8" fill="#ff0000"/><circle cx="301.6" cy="685.2" r="3.8" fill="#ff0000"/><circle cx="302.3" cy="676.5" r="3.8" fill="#ff0000"/><circle cx="303.0" cy="668.5" r="3.8" fill="#ff0000"/><circle cx="303.7" cy="660.5" r="3.8" fill="#ff0000"/><circle cx="304.3" cy="652.5" r="3.8" fill="#ff0000"/><circle cx="304.9" cy="644.9" r="3.8" fill="#ff0000"/><circle cx="305.6" cy="637.6" r="3.8" fill="#ff0000"/><circle cx="306.3" cy="631.3" r="3.8" fill="#ff0000"/><circle cx="307.0" cy="626.1" r="3.8" fill="#ff0000"/><circle cx="307.7" cy="621.7" r="3.8" fill="#ff0000"/><circle cx="308.2" cy="619.5" r="3.8" fill="#ff0000"/><circle cx="308.6" cy="618.0" r="3.8" fill="#ff0000"/><circle cx="309.1" cy="616.9" r="3.8" fill="#ff0000"/><circle cx="309.6" cy="618.2" r="3.8" fill="#ff0000"/><circle cx="310.4" cy="621.7" r="3.8" fill="#ff0000"/><circle cx="311.3" cy="629.9" r="3.8" fill="#ff0000"/><circle cx="311.7" cy="647.8" r="3.8" fill="#ff0000"/><circle cx="313.4" cy="703.5" r="3.8" fill="#ff0000"/><circle cx="313.9" cy="720.0" r="3.8" fill="#ff0000"/><circle cx="314.6" cy="733.0" r="3.8" fill="#ff0000"/><circle cx="315.1" cy="743.8" r="3.8" fill="#ff0000"/><circle cx="315.7" cy="753.6" r="3.8" fill="#ff0000"/><circle cx="316.2" cy="763.1" r="3.8" fill="#ff0000"/><circle cx="316.9" cy="772.7" r="3.8" fill="#ff0000"/><circle cx="317.6" cy="782.1" r="3.8" fill="#ff0000"/><circle cx="318.4" cy="792.2" r="3.8" fill="#ff0000"/><circle cx="319.1" cy="802.3" r="3.8" fill="#ff0000"/><circle cx="320.1" cy="812.8" r="3.8" fill="#ff0000"/><circle cx="321.3" cy="824.9" r="3.8" fill="#ff0000"/><circle cx="322.8" cy="837.8" r="3.8" fill="#ff0000"/><circle cx="324.8" cy="852.2" r="3.8" fill="#ff0000"/><circle cx="327.5" cy="868.3" r="3.8" fill="#ff0000"/><circle cx="331.0" cy="887.4" r="3.8" fill="#ff0000"/><circle cx="336.9" cy="910.0" r="3.8" fill="#ff0000"/><circle cx="346.6" cy="938.5" r="3.8" fill="#ff0000"/><circle cx="363.8" cy="970.0" r="3.8" fill="#ff0000"/><circle cx="379.6" cy="992.3" r="3.8" fill="#ff0000"/><circle cx="394.0" cy="1008.2" r="3.8" fill="#ff0000"/><circle cx="407.9" cy="1021.5" r="3.8" fill="#ff0000"/><circle cx="420.5" cy="1033.5" r="3.8" fill="#ff0000"/><circle cx="432.8" cy="1044.5" r="3.8" fill="#ff0000"/><circle cx="445.6" cy="1055.6" r="3.8" fill="#ff0000"/><circle cx="450.3" cy="1059.6" r="3.8" fill="#ff0000"/><circle cx="453.6" cy="1061.2" r="3.8" fill="#ff0000"/>
<circle cx="347.3" cy="1031.5" r="3.8" fill="#ff0000"/><circle cx="348.0" cy="1033.7" r="3.8" fill="#ff0000"/><circle cx="348.9" cy="1035.8" r="3.8" fill="#ff0000"/><circle cx="350.3" cy="1037.6" r="3.8" fill="#ff0000"/><circle cx="351.8" cy="1039.4" r="3.8" fill="#ff0000"/><circle cx="353.4" cy="1041.2" r="3.8" fill="#ff0000"/><circle cx="355.1" cy="1042.9" r="3.8" fill="#ff0000"/><circle cx="356.9" cy="1044.4" r="3.8" fill="#ff0000"/><circle cx="358.8" cy="1045.7" r="3.8" fill="#ff0000"/><circle cx="361.0" cy="1046.9" r="3.8" fill="#ff0000"/><circle cx="363.1" cy="1048.1" r="3.8" fill="#ff0000"/><circle cx="369.5" cy="1051.0" r="3.8" fill="#ff0000"/><circle cx="374.4" cy="1052.6" r="3.8" fill="#ff0000"/><circle cx="381.4" cy="1054.9" r="3.8" fill="#ff0000"/><circle cx="390.5" cy="1057.2" r="3.8" fill="#ff0000"/><circle cx="405.9" cy="1060.0" r="3.8" fill="#ff0000"/><circle cx="433.7" cy="1064.6" r="3.8" fill="#ff0000"/><circle cx="463.1" cy="1067.3" r="3.8" fill="#ff0000"/><circle cx="507.3" cy="1070.5" r="3.8" fill="#ff0000"/><circle cx="557.0" cy="1072.5" r="3.8" fill="#ff0000"/><circle cx="627.4" cy="1074.6" r="3.8" fill="#ff0000"/><circle cx="682.1" cy="1075.6" r="3.8" fill="#ff0000"/>
<circle cx="454.1" cy="1059.7" r="3.8" fill="#ff00ff"/><circle cx="453.4" cy="1057.4" r="3.8" fill="#ff00ff"/><circle cx="452.0" cy="1054.5" r="3.8" fill="#ff00ff"/><circle cx="449.7" cy="1050.9" r="3.8" fill="#ff00ff"/><circle cx="446.2" cy="1046.9" r="3.8" fill="#ff00ff"/><circle cx="438.6" cy="1041.0" r="3.8" fill="#ff00ff"/><circle cx="431.0" cy="1036.4" r="3.8" fill="#ff00ff"/><circle cx="421.1" cy="1031.7" r="3.8" fill="#ff00ff"/><circle cx="411.8" cy="1028.2" r="3.8" fill="#ff00ff"/><circle cx="400.4" cy="1024.8" r="3.8" fill="#ff00ff"/><circle cx="390.1" cy="1022.2" r="3.8" fill="#ff00ff"/><circle cx="379.6" cy="1020.2" r="3.8" fill="#ff00ff"/><circle cx="369.7" cy="1019.5" r="3.8" fill="#ff00ff"/><circle cx="360.9" cy="1020.1" r="3.8" fill="#ff00ff"/><circle cx="353.3" cy="1022.2" r="3.8" fill="#ff00ff"/><circle cx="347.5" cy="1029.2" r="3.8" fill="#ff00ff"/>
<text x="73.2" y="626.7" text-anchor="end" class="tk">7</text><text x="73.2" y="692.5" text-anchor="end" class="tk">6</text><text x="73.2" y="758.1" text-anchor="end" class="tk">5</text><text x="73.2" y="823.6" text-anchor="end" class="tk">4</text><text x="73.2" y="889.2" text-anchor="end" class="tk">3</text><text x="73.2" y="954.8000000000001" text-anchor="end" class="tk">2</text><text x="73.2" y="1020.4000000000001" text-anchor="end" class="tk">1</text><text x="158.8" y="1111.0" text-anchor="middle" class="tk">740</text><text x="263.5" y="1111.0" text-anchor="middle" class="tk">760</text><text x="368.2" y="1111.0" text-anchor="middle" class="tk">780</text><text x="473" y="1111.0" text-anchor="middle" class="tk">800</text><text x="577.8" y="1111.0" text-anchor="middle" class="tk">820</text>
<path d="M86.2,597.9L98.4,609.5M98.4,597.9L86.2,609.5" stroke="#262626" stroke-width="1.3" fill="none"/><text x="104.3" y="610.2" class="tk">10</text><text x="132.6" y="597.9" class="tk" style="font-size:20.8px">-4</text>
<g transform="translate(-23.3,516.9)"><line x1="412.4" y1="191.5" x2="468.2" y2="191.5" stroke="#0000ff" stroke-width="3"/><line x1="412.4" y1="220.2" x2="468.2" y2="220.2" stroke="#0000ff" stroke-width="3" stroke-dasharray="9 8.8"/><line x1="412.4" y1="248.8" x2="468.2" y2="248.8" stroke="#000" stroke-width="4.2" stroke-dasharray="3.3 3.35"/><circle cx="440.3" cy="277.3" r="3.8" fill="#ff0000"/><circle cx="440.3" cy="305.8" r="3.8" fill="#ff00ff"/><text x="472.7" y="196.5" class="lg">SSM-</text><path d="M545.60,188.60L545.14,189.67L544.53,190.72L543.80,191.74L542.96,192.70L542.01,193.59L540.97,194.40L539.87,195.11L538.72,195.70L537.53,196.18L536.34,196.52L535.16,196.73L534.02,196.80L532.92,196.73L531.89,196.52L530.95,196.18L530.12,195.70L529.40,195.11L528.81,194.40L528.36,193.59L528.06,192.70L527.91,191.74L527.92,190.72L528.08,189.67L528.40,188.60L528.86,187.53L529.47,186.48L530.20,185.46L531.04,184.50L531.99,183.61L533.03,182.80L534.13,182.09L535.28,181.50L536.47,181.02L537.66,180.68L538.84,180.47L539.98,180.40L541.08,180.47L542.11,180.68L543.05,181.02L543.88,181.50L544.60,182.09L545.19,182.80L545.64,183.61L545.94,184.50L546.09,185.46L546.08,186.48L545.92,187.53ZM542.97,184.97L542.59,184.21L542.11,183.52L541.55,182.92L540.91,182.42L540.20,182.02L539.43,181.74L538.63,181.57L537.79,181.53L536.95,181.60L536.10,181.80L535.27,182.11L534.47,182.53L533.71,183.06L533.01,183.68L532.38,184.38L531.82,185.16L531.36,186.00L530.99,186.88L530.72,187.79L530.56,188.71L530.51,189.63L530.58,190.54L530.75,191.41L531.03,192.23L531.41,192.99L531.89,193.68L532.45,194.28L533.09,194.78L533.80,195.18L534.57,195.46L535.37,195.63L536.21,195.67L537.05,195.60L537.90,195.40L538.73,195.09L539.53,194.67L540.29,194.14L540.99,193.52L541.62,192.82L542.18,192.04L542.64,191.20L543.01,190.32L543.28,189.41L543.44,188.49L543.49,187.57L543.42,186.66L543.25,185.79Z" fill="#000" fill-rule="evenodd"/><path d="M533.4,187.6C533.0,185.0 534.6,183.0 537.6,182.0" fill="none" stroke="#000" stroke-width="1.1"/><text x="547.3" y="196.5" class="lg">(5)</text><text x="582.6" y="196.5" class="lg">-</text><text x="598.0" y="196.5" class="lg" textLength="60" lengthAdjust="spacingAndGlyphs">stable</text><text x="472.7" y="225.2" class="lg">SSM-</text><path d="M545.60,217.30L545.14,218.37L544.53,219.42L543.80,220.44L542.96,221.40L542.01,222.29L540.97,223.10L539.87,223.81L538.72,224.40L537.53,224.88L536.34,225.22L535.16,225.43L534.02,225.50L532.92,225.43L531.89,225.22L530.95,224.88L530.12,224.40L529.40,223.81L528.81,223.10L528.36,222.29L528.06,221.40L527.91,220.44L527.92,219.42L528.08,218.37L528.40,217.30L528.86,216.23L529.47,215.18L530.20,214.16L531.04,213.20L531.99,212.31L533.03,211.50L534.13,210.79L535.28,210.20L536.47,209.72L537.66,209.38L538.84,209.17L539.98,209.10L541.08,209.17L542.11,209.38L543.05,209.72L543.88,210.20L544.60,210.79L545.19,211.50L545.64,212.31L545.94,213.20L546.09,214.16L546.08,215.18L545.92,216.23ZM542.97,213.67L542.59,212.91L542.11,212.22L541.55,211.62L540.91,211.12L540.20,210.72L539.43,210.44L538.63,210.27L537.79,210.23L536.95,210.30L536.10,210.50L535.27,210.81L534.47,211.23L533.71,211.76L533.01,212.38L532.38,213.08L531.82,213.86L531.36,214.70L530.99,215.58L530.72,216.49L530.56,217.41L530.51,218.33L530.58,219.24L530.75,220.11L531.03,220.93L531.41,221.69L531.89,222.38L532.45,222.98L533.09,223.48L533.80,223.88L534.57,224.16L535.37,224.33L536.21,224.37L537.05,224.30L537.90,224.10L538.73,223.79L539.53,223.37L540.29,222.84L540.99,222.22L541.62,221.52L542.18,220.74L542.64,219.90L543.01,219.02L543.28,218.11L543.44,217.19L543.49,216.27L543.42,215.36L543.25,214.49Z" fill="#000" fill-rule="evenodd"/><path d="M533.4,216.29999999999998C533.0,213.7 534.6,211.7 537.6,210.7" fill="none" stroke="#000" stroke-width="1.1"/><text x="547.3" y="225.2" class="lg">(5)</text><text x="582.6" y="225.2" class="lg">-</text><text x="598.0" y="225.2" class="lg" textLength="85.3" lengthAdjust="spacingAndGlyphs">unstable</text><text x="472.4" y="253.8" class="lg" textLength="63.8" lengthAdjust="spacingAndGlyphs">Linear</text><text x="472.6" y="282.3" class="lg" textLength="156.8" lengthAdjust="spacingAndGlyphs">Shooting-stable</text><text x="472.6" y="310.8" class="lg" textLength="182" lengthAdjust="spacingAndGlyphs">Shooting-unstable</text></g>
<g transform="translate(0,583.2)"><text transform="translate(326.17,559.40) scale(1.3281,1.3939)" font-family="Liberation Serif" font-style="normal" font-size="20" fill="#000" stroke="#000" stroke-width="0.257">Ω</text><text transform="translate(364.94,559.31) scale(1.3936,1.4357)" font-family="Liberation Serif" font-style="normal" font-size="20" fill="#000" stroke="#000" stroke-width="0.247">rad</text><text transform="translate(415.44,559.44) scale(1.4444,1.2813)" font-family="Liberation Serif" font-style="normal" font-size="20" fill="#000" stroke="#000" stroke-width="0.257">s</text><path d="M404.2,565.8L412.2,538.8" stroke="#000" stroke-width="1.4" fill="none"/><path d="M363.8,539.1H360.6V565.7H363.8M431.7,539.1H434.9V565.7H431.7" fill="none" stroke="#000" stroke-width="1.5"/></g>
<g transform="translate(21.9,583.7)"><line x1="0.3" y1="267.7" x2="28.8" y2="267.7" stroke="#000" stroke-width="1.5"/><line x1="0.3" y1="275.4" x2="28.8" y2="275.4" stroke="#000" stroke-width="1.5"/><line x1="0.3" y1="319.3" x2="28.8" y2="319.3" stroke="#000" stroke-width="1.5"/><line x1="0.3" y1="327.1" x2="28.8" y2="327.1" stroke="#000" stroke-width="1.5"/><path d="M0.9,201.1V197.8H28.2V201.1M0.9,225.6V229.1H28.2V225.6" fill="none" stroke="#000" stroke-width="1.5"/><text transform="translate(21.90,225.31) rotate(-90) scale(1.5135,1.4362)" font-family="Liberation Serif" font-style="normal" font-size="20" fill="#000" stroke="#000" stroke-width="0.237">m</text><text transform="translate(28.88,263.91) rotate(-90) scale(1.3858,1.2895)" font-family="Liberation Serif" font-style="normal" font-size="20" fill="#000" stroke="#000" stroke-width="0.262">∞</text><text transform="translate(26.30,295.34) rotate(-90) scale(1.0678,1.0763)" font-family="Liberation Serif" font-style="normal" font-size="20" fill="#000" stroke="#000" stroke-width="0.326">B</text><g transform="translate(-21.9,-583.7)" fill="none" stroke="#000" stroke-linecap="round" stroke-linejoin="round"><path d="M35.46,897.83C33.01,897.55 30.91,896.25 30.73,894.32C30.63,893.27 31.26,892.50 32.31,892.47" stroke-width="0.95"/><path d="M31.89,892.57C35.11,892.57 37.56,894.67 40.72,895.02C42.82,895.13 44.04,893.62 44.04,891.52C44.04,890.12 43.52,889.07 42.29,888.44" stroke-width="2.0"/><path d="M31.43,885.91Q36.51,886.79 42.29,888.44" stroke-width="2.1"/><path d="M41.94,888.30C43.69,887.59 44.29,885.91 43.87,884.16C43.45,881.71 40.72,880.13 37.56,879.61C35.81,879.33 34.23,879.26 32.83,879.78" stroke-width="1.25"/><circle cx="32.31" cy="880.59" r="1.45" fill="#000" stroke="none"/></g></g>
</svg>
</body></html>
